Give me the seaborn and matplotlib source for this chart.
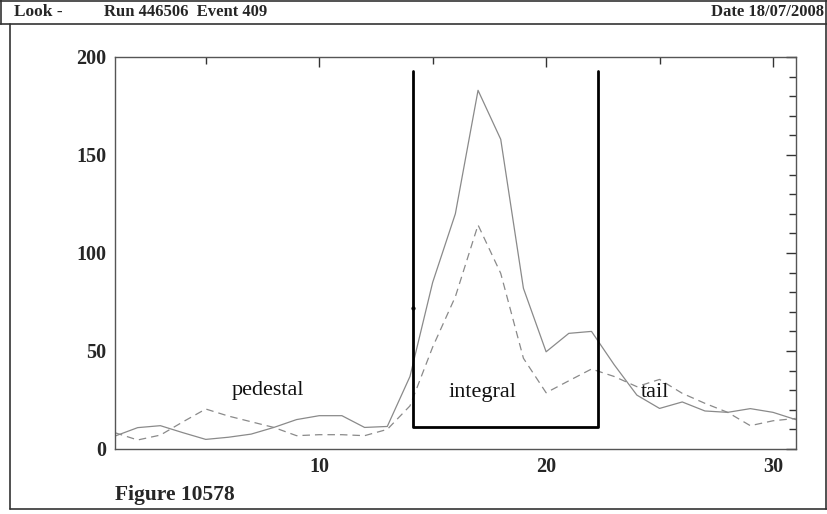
import numpy as np
import pandas as pd
import seaborn as sns
import matplotlib.pyplot as plt
from matplotlib.lines import Line2D
from matplotlib.ticker import MultipleLocator, FixedLocator

# sample number and the two pulse traces
samples = list(range(1, 32))
solid_trace = [6.6, 10.9, 11.9, 8.3, 4.9, 6.0, 7.6, 11.0, 15.0, 17.0, 17.0,
               11.0, 11.5, 37.0, 85.0, 120.0, 183.0, 158.0, 82.0, 49.6, 59.0,
               60.0, 43.0, 27.5, 20.7, 24.0, 19.4, 18.7, 20.6, 18.7, 15.0]
dashed_trace = [8.3, 4.6, 7.1, 13.9, 20.4, 16.8, 13.9, 11.0, 6.8, 7.3, 7.3,
                6.8, 10.0, 22.0, 52.0, 77.7, 114.3, 89.6, 46.3, 28.7, 34.8,
                40.8, 37.0, 31.8, 35.5, 28.4, 23.3, 18.7, 11.9, 14.4, 15.6]

# integration window
win_left, win_right = 14.15, 22.3
win_low, win_high = 11, 193

# region labels
region_names = ["pedestal", "integral", "tail"]
region_x = [7.75, 17.2, 24.8]
region_y = [30, 29, 29]

df = pd.DataFrame({"sample": samples * 2,
                   "adc": solid_trace + dashed_trace,
                   "trace": ["solid"] * 31 + ["dashed"] * 31})

sns.set_theme(style="white")
plt.rcParams['font.family'] = ['Liberation Serif', 'DejaVu Serif']

fig = plt.figure(figsize=(8.27, 5.14), dpi=100)
W, H = 827, 514
ax = fig.add_axes([115 / W, 1 - 449 / H, (795.7 - 115) / W, (449 - 57) / H])

sns.lineplot(data=df, x="sample", y="adc", hue="trace", style="trace",
             palette={"solid": "#8a8a8a", "dashed": "#8a8a8a"},
             dashes={"solid": "", "dashed": (6, 4)},
             linewidth=0.9, legend=False, ax=ax)

# window box
ax.plot([win_left, win_left, win_right, win_right],
        [win_high, win_low, win_low, win_high], color="black", lw=2)
ax.plot([win_left], [72], marker="o", ms=2, color="black")

for name, xx, yy in zip(region_names, region_x, region_y):
    ax.text(xx, yy, name, ha="center", va="center", fontsize=16, color="#111111")

ax.set_xlim(1, 31)
ax.set_ylim(0, 200)
ax.set_xlabel("")
ax.set_ylabel("")
ax.xaxis.set_major_locator(FixedLocator([10, 20, 30]))
ax.xaxis.set_minor_locator(FixedLocator([5, 15, 25]))
ax.yaxis.set_major_locator(MultipleLocator(50))
ax.yaxis.set_minor_locator(MultipleLocator(10))
ax.tick_params(which="both", direction="in", top=True, right=True,
               color="#333333", width=1)
ax.tick_params(which="major", length=7, pad=6, labelsize=14.5)
ax.tick_params(which="minor", length=5)
for lab in ax.get_xticklabels() + ax.get_yticklabels():
    lab.set_fontweight("bold")
for sp in ax.spines.values():
    sp.set_color("#555555")
    sp.set_linewidth(1)

# header and frame
hdr = 1 - 24 / H
fig.add_artist(Line2D([0, 1], [hdr, hdr], color="#333333", lw=1.2))
fig.add_artist(Line2D([0, 1], [1 - 1 / H, 1 - 1 / H], color="#333333", lw=1.2))
fig.add_artist(Line2D([1 / W, 1 / W], [1, hdr], color="#333333", lw=1.2))
fig.add_artist(Line2D([10 / W, 10 / W], [hdr, 1 - 509 / H], color="#333333", lw=1.2))
fig.add_artist(Line2D([10 / W, 1], [1 - 509 / H, 1 - 509 / H], color="#333333", lw=1.2))
fig.add_artist(Line2D([826 / W, 826 / W], [1, 1 - 509 / H], color="#333333", lw=1.2))

hy = 1 - 12.5 / H
fig.text(14 / W, hy, "Look -", fontsize=12.5, fontweight="bold", va="center")
fig.text(104 / W, hy, "Run 446506  Event 409", fontsize=12, fontweight="bold", va="center")
fig.text(824 / W, hy, "Date 18/07/2008", fontsize=12, fontweight="bold", va="center", ha="right")
fig.text(115 / W, 1 - 495 / H, "Figure 10578", fontsize=15.5, fontweight="bold", va="center")

fig.savefig("out.png", dpi=100)
